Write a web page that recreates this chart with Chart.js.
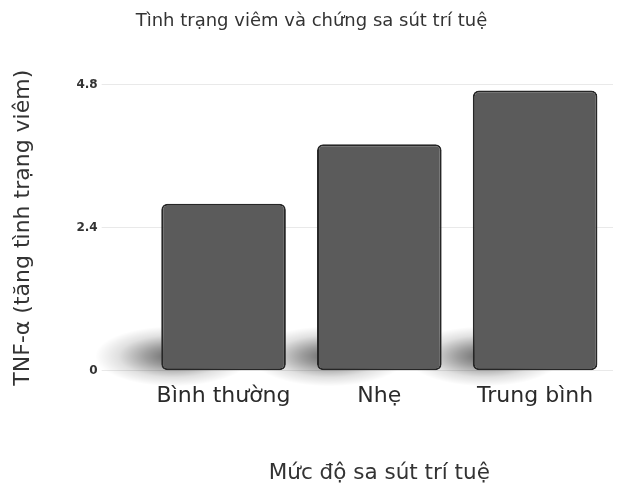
<!DOCTYPE html>
<html>
<head>
<meta charset="utf-8">
<script src="https://cdn.jsdelivr.net/npm/chart.js@4"></script>
<style>
  html, body { margin: 0; padding: 0; background: #fff; }
  #wrap { width: 625px; height: 486px; }
</style>
</head>
<body>
<div id="wrap"><canvas id="tnfChart"></canvas></div>
<script>
const categories = ['Bình thường', 'Nhẹ', 'Trung bình'];
const tnfValues = [2.8, 3.8, 4.7];
const yTicks = [0, 2.4, 4.8];

// soft floor shadow cast to the left of each bar foot, drawn before the bars
const barShadow = {
  id: 'barShadow',
  beforeDatasetsDraw(chart) {
    const ctx = chart.ctx;
    const meta = chart.getDatasetMeta(0);
    meta.data.forEach(bar => {
      const left = bar.x - bar.width / 2;
      ctx.save();
      ctx.translate(left + 12, bar.base - 14);
      ctx.scale(2.6, 1);
      const g = ctx.createRadialGradient(0, 0, 0, 0, 0, 30);
      g.addColorStop(0, 'rgba(0,0,0,0.6)');
      g.addColorStop(0.35, 'rgba(0,0,0,0.38)');
      g.addColorStop(0.7, 'rgba(0,0,0,0.12)');
      g.addColorStop(1, 'rgba(0,0,0,0)');
      ctx.fillStyle = g;
      ctx.beginPath();
      ctx.arc(0, 0, 30, 0, Math.PI * 2);
      ctx.fill();
      ctx.restore();
    });
  }
};

const ctx = document.getElementById('tnfChart').getContext('2d');
const tnfChart = new Chart(ctx, {
  type: 'bar',
  data: {
    labels: categories,
    datasets: [{
      label: 'TNF-α',
      data: tnfValues,
      backgroundColor: '#5b5b5b',
      borderColor: '#262626',
      borderWidth: 2,
      borderRadius: 6,
      borderSkipped: false,
      categoryPercentage: 0.8,
      barPercentage: 1
    }]
  },
  plugins: [barShadow],
  options: {
    responsive: true,
    maintainAspectRatio: false,
    animation: false,
    layout: {
      padding: { left: 10, right: 12, top: 0, bottom: 0 }
    },
    plugins: {
      legend: { display: false },
      tooltip: { enabled: false },
      title: {
        display: true,
        text: 'Tình trạng viêm và chứng sa sút trí tuệ',
        color: '#333',
        font: { family: 'DejaVu Sans', size: 18, weight: 'normal' },
        padding: { top: 11, bottom: 52 }
      }
    },
    scales: {
      x: {
        grid: { display: false },
        border: { display: false },
        ticks: {
          color: '#2a2a2a',
          padding: 4,
          font: { family: 'DejaVu Sans', size: 22 }
        },
        title: {
          display: true,
          text: 'Mức độ sa sút trí tuệ',
          color: '#333',
          font: { family: 'DejaVu Sans', size: 21.5 },
          padding: { top: 47, bottom: 0 }
        }
      },
      y: {
        min: 0,
        max: 4.8,
        afterBuildTicks: axis => {
          axis.ticks = yTicks.map(v => ({ value: v }));
        },
        border: { display: false },
        grid: {
          color: '#e9e9e9',
          tickLength: 44
        },
        ticks: {
          color: '#333',
          padding: 4,
          font: { family: 'DejaVu Sans', size: 12, weight: '600' }
        },
        title: {
          display: true,
          text: 'TNF-α (tăng tình trạng viêm)',
          color: '#333',
          font: { family: 'DejaVu Sans', size: 22 },
          padding: { top: 0, bottom: 36 }
        }
      }
    }
  }
});
</script>
</body>
</html>
